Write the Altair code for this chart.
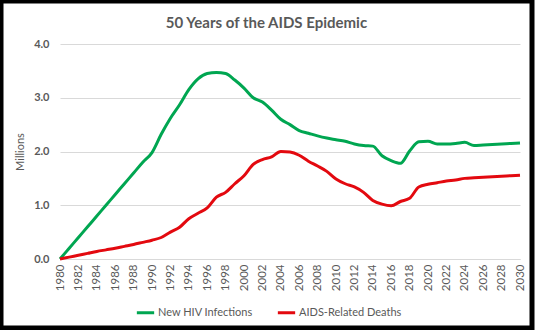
import altair as alt
import pandas as pd

years = list(range(1980, 2031))
new_infections = [0.0, 0.2, 0.4, 0.6, 0.8, 1.0, 1.2, 1.4, 1.6, 1.8, 1.98,
                  2.32, 2.62, 2.87, 3.15, 3.35, 3.45, 3.47, 3.45, 3.33, 3.18,
                  3.0, 2.92, 2.77, 2.6, 2.5, 2.39, 2.34, 2.29, 2.25, 2.22,
                  2.19, 2.14, 2.11, 2.1, 1.92, 1.83, 1.78, 2.01, 2.18, 2.19,
                  2.14, 2.14, 2.15, 2.17, 2.11, 2.12, 2.13, 2.14, 2.15, 2.16]
deaths = [0.0, 0.035, 0.07, 0.105, 0.14, 0.17, 0.2, 0.235, 0.27, 0.31, 0.35,
          0.4, 0.5, 0.59, 0.75, 0.85, 0.95, 1.15, 1.24, 1.4, 1.55,
          1.76, 1.85, 1.9, 2.0, 1.99, 1.93, 1.82, 1.73, 1.63, 1.49,
          1.4, 1.34, 1.24, 1.09, 1.02, 0.99, 1.07, 1.13, 1.34, 1.39,
          1.42, 1.45, 1.47, 1.5, 1.51, 1.52, 1.53, 1.54, 1.55, 1.56]
series_names = ["New HIV Infections", "AIDS-Related Deaths"]
series_colors = ["#00A651", "#E3090F"]
tick_years = list(range(1980, 2031, 2))

df = pd.DataFrame({
    "Year": years * 2,
    "Value": new_infections + deaths,
    "Series": [series_names[0]] * len(years) + [series_names[1]] * len(years),
})

FONT = "Lato"
GRAY = "#595959"

lines = alt.Chart(df).mark_line(strokeWidth=3, interpolate="monotone").encode(
    x=alt.X("Year:Q",
            scale=alt.Scale(domain=[1980, 2030], nice=False),
            axis=alt.Axis(values=tick_years, format="d", labelAngle=270,
                          title=None, grid=False, ticks=False,
                          domainColor="#d9d9d9", labelColor=GRAY,
                          labelFontSize=11.5, labelFont=FONT, labelPadding=5,
                          labelBaseline="middle", labelAlign="right")),
    y=alt.Y("Value:Q",
            scale=alt.Scale(domain=[0, 4], nice=False),
            axis=alt.Axis(values=[0, 1, 2, 3, 4], format=".1f",
                          title="Millions", titleColor=GRAY, titleFont=FONT,
                          titleFontSize=11, titleFontWeight="normal",
                          titlePadding=8,
                          domain=False, ticks=False, gridColor="#d9d9d9",
                          labelColor=GRAY, labelFontSize=11, labelFont=FONT,
                          labelFontWeight="bold", labelPadding=11)),
    color=alt.Color("Series:N",
                    scale=alt.Scale(domain=series_names, range=series_colors),
                    legend=alt.Legend(title=None, orient="none",
                                      direction="horizontal",
                                      legendX=75, legendY=258,
                                      symbolType="stroke", symbolStrokeWidth=3,
                                      symbolSize=300, labelFont=FONT,
                                      labelFontSize=11, labelColor=GRAY,
                                      columnPadding=18, labelOffset=2)),
)

frame = alt.Chart(pd.DataFrame({"a": [0]})).mark_rect(
    fill=None, stroke="black", strokeWidth=5
).encode(
    x=alt.value(-59), x2=alt.value(472), y=alt.value(-43), y2=alt.value(284)
)

chart = alt.layer(lines, frame).properties(
    width=460, height=215,
    title=alt.TitleParams("50 Years of the AIDS Epidemic", font=FONT,
                          fontSize=15, fontWeight="bold", color=GRAY,
                          anchor="middle", frame="bounds", offset=-32),
    padding={"left": 60, "top": 44, "right": 15, "bottom": 71},
    autosize="none",
    background="white",
).configure_view(stroke=None)

chart.save("out.html", embed_options={"renderer": "svg", "actions": False})
